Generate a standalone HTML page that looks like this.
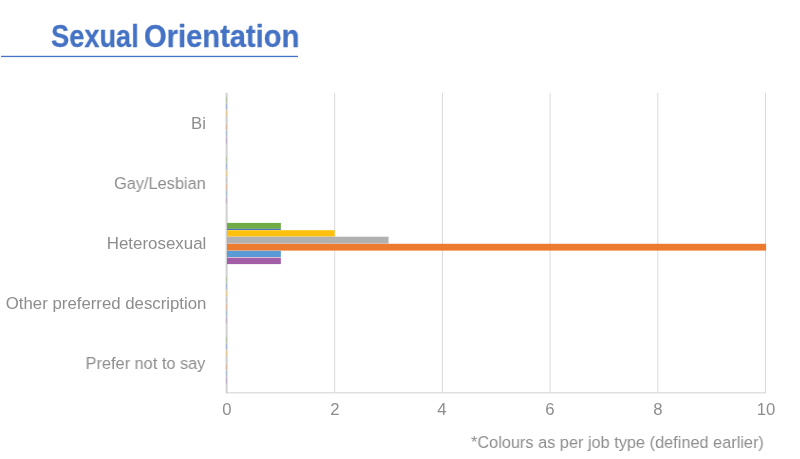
<!DOCTYPE html>
<html><head><meta charset="utf-8">
<style>
html,body{margin:0;padding:0;background:#fff;}
body{width:800px;height:459px;position:relative;overflow:hidden;font-family:"Liberation Sans",sans-serif;}
.tw{position:absolute;top:21.0px;font-size:30.6px;font-weight:bold;color:#4472C4;line-height:1;white-space:nowrap;transform-origin:0 0;-webkit-text-stroke:0.3px #4472C4;will-change:transform;}
.lab{position:absolute;right:594.5px;font-size:16.7px;color:#8D8D8D;line-height:1;white-space:nowrap;transform-origin:100% 0;will-change:transform;}
.xl{position:absolute;top:402.4px;font-size:16.7px;color:#8D8D8D;line-height:1;width:40px;text-align:center;will-change:transform;}
#foot{position:absolute;left:471px;top:434.3px;font-size:17.2px;color:#8D8D8D;line-height:1;white-space:nowrap;transform-origin:0 0;transform:scaleX(0.949);will-change:transform;}
svg{position:absolute;left:0;top:0;}
</style></head><body>
<svg width="800" height="459" viewBox="0 0 800 459">
  <rect x="1" y="55.8" width="297" height="1.3" fill="#4472C4"/>
  <g fill="#D9D9D9">
    <rect x="334.2" y="92.8" width="1" height="300"/>
    <rect x="441.9" y="92.8" width="1" height="300"/>
    <rect x="549.6" y="92.8" width="1" height="300"/>
    <rect x="657.3" y="92.8" width="1" height="300"/>
    <rect x="765" y="92.8" width="1" height="300"/>
    <rect x="226" y="392.2" width="540" height="1.2"/>
  </g>
  <rect x="225.6" y="92.8" width="2.1" height="300.6" fill="#D3D3D3"/>
  <rect x="225.9" y="96.80" width="1.1" height="5.6" fill="#6FAC46" opacity="0.3"/><rect x="225.9" y="103.50" width="1.1" height="5.6" fill="#4472C4" opacity="0.3"/><rect x="225.9" y="110.50" width="1.1" height="5.6" fill="#FFC10E" opacity="0.3"/><rect x="225.9" y="117.00" width="1.1" height="5.6" fill="#B1B1B1" opacity="0.3"/><rect x="225.9" y="124.20" width="1.1" height="5.6" fill="#EC7B2F" opacity="0.3"/><rect x="225.9" y="130.90" width="1.1" height="5.6" fill="#5B9BD5" opacity="0.3"/><rect x="225.9" y="137.80" width="1.1" height="5.6" fill="#A25FA8" opacity="0.3"/><rect x="225.9" y="156.80" width="1.1" height="5.6" fill="#6FAC46" opacity="0.3"/><rect x="225.9" y="163.50" width="1.1" height="5.6" fill="#4472C4" opacity="0.3"/><rect x="225.9" y="170.50" width="1.1" height="5.6" fill="#FFC10E" opacity="0.3"/><rect x="225.9" y="177.00" width="1.1" height="5.6" fill="#B1B1B1" opacity="0.3"/><rect x="225.9" y="184.20" width="1.1" height="5.6" fill="#EC7B2F" opacity="0.3"/><rect x="225.9" y="190.90" width="1.1" height="5.6" fill="#5B9BD5" opacity="0.3"/><rect x="225.9" y="197.80" width="1.1" height="5.6" fill="#A25FA8" opacity="0.3"/><rect x="225.9" y="276.80" width="1.1" height="5.6" fill="#6FAC46" opacity="0.3"/><rect x="225.9" y="283.50" width="1.1" height="5.6" fill="#4472C4" opacity="0.3"/><rect x="225.9" y="290.50" width="1.1" height="5.6" fill="#FFC10E" opacity="0.3"/><rect x="225.9" y="297.00" width="1.1" height="5.6" fill="#B1B1B1" opacity="0.3"/><rect x="225.9" y="304.20" width="1.1" height="5.6" fill="#EC7B2F" opacity="0.3"/><rect x="225.9" y="310.90" width="1.1" height="5.6" fill="#5B9BD5" opacity="0.3"/><rect x="225.9" y="317.80" width="1.1" height="5.6" fill="#A25FA8" opacity="0.3"/><rect x="225.9" y="336.80" width="1.1" height="5.6" fill="#6FAC46" opacity="0.3"/><rect x="225.9" y="343.50" width="1.1" height="5.6" fill="#4472C4" opacity="0.3"/><rect x="225.9" y="350.50" width="1.1" height="5.6" fill="#FFC10E" opacity="0.3"/><rect x="225.9" y="357.00" width="1.1" height="5.6" fill="#B1B1B1" opacity="0.3"/><rect x="225.9" y="364.20" width="1.1" height="5.6" fill="#EC7B2F" opacity="0.3"/><rect x="225.9" y="370.90" width="1.1" height="5.6" fill="#5B9BD5" opacity="0.3"/><rect x="225.9" y="377.80" width="1.1" height="5.6" fill="#A25FA8" opacity="0.3"/>
  <rect x="227" y="222.90" width="53.85" height="5.9" fill="#6FAC46"/><rect x="227" y="228.80" width="53.85" height="1.1" fill="#3B64AE"/><rect x="227" y="230.20" width="107.70" height="6.4" fill="#FFC10E"/><rect x="227" y="236.70" width="161.55" height="6.9" fill="#B1B1B1"/><rect x="227" y="243.80" width="539.10" height="6.8" fill="#EC7B2F"/><rect x="227" y="250.80" width="53.85" height="6.2" fill="#5B9BD5"/><rect x="227" y="257.60" width="53.85" height="6.5" fill="#A25FA8"/>
</svg>
<div class="tw" style="left:51px;transform:scaleX(0.889)">Sexual</div>
<div class="tw" style="left:143.7px;transform:scaleX(0.952)">Orientation</div>

<div class="lab" style="top:116px">Bi</div>
<div class="lab" style="top:176px;transform:scaleX(0.978)">Gay/Lesbian</div>
<div class="lab" style="top:236px;right:593.7px;transform:scaleX(1.013)">Heterosexual</div>
<div class="lab" style="top:296px;right:593.7px;transform:scaleX(1.006)">Other preferred description</div>
<div class="lab" style="top:356px;transform:scaleX(0.979)">Prefer not to say</div>

<div class="xl" style="left:207px">0</div>
<div class="xl" style="left:314.7px">2</div>
<div class="xl" style="left:422.4px">4</div>
<div class="xl" style="left:530.1px">6</div>
<div class="xl" style="left:637.8px">8</div>
<div class="xl" style="left:746px">10</div>

<div id="foot">*Colours as per job type (defined earlier)</div>
</body></html>
